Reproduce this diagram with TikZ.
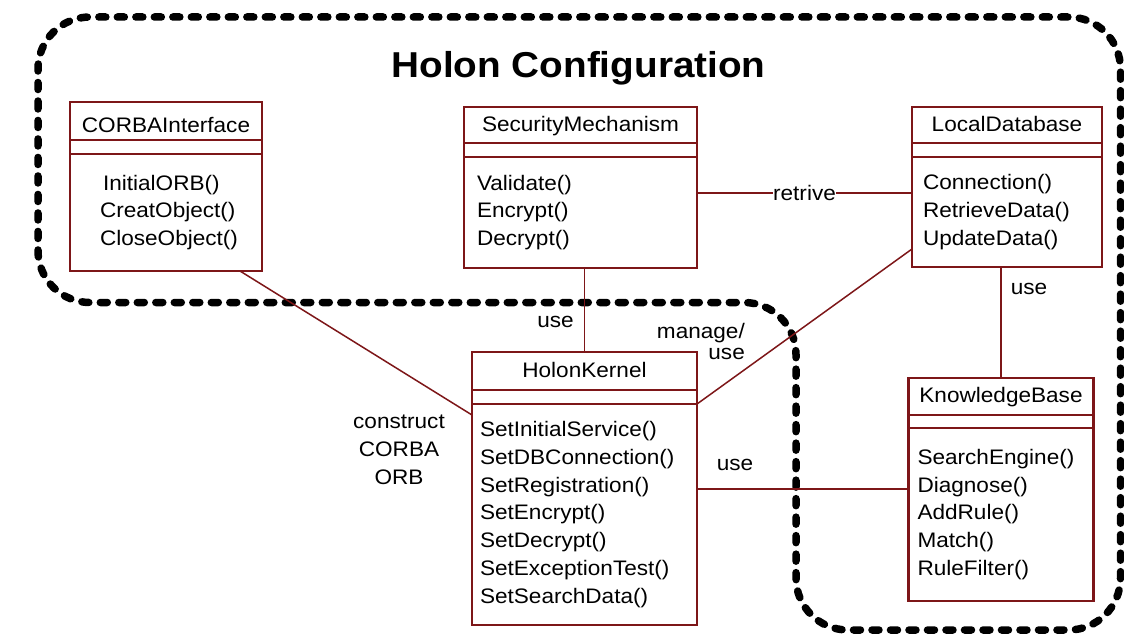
\documentclass[tikz,border=0pt]{standalone}
\usepackage{fontspec}
\setmainfont{Liberation Sans}[FakeStretch=1.075]
\usetikzlibrary{positioning,calc}
\definecolor{umlred}{RGB}{125,22,24}
\newcommand{\umlfont}{\fontsize{21}{27.8}\selectfont}

\begin{document}
\begin{tikzpicture}[x=1pt,y=-1pt,
    classname/.style={draw=umlred, line width=2.2pt, outer sep=0pt, inner sep=0pt,
        text height=16pt, text depth=4pt, font=\umlfont},
    attrbox/.style={draw=umlred, line width=2.2pt, outer sep=0pt, inner sep=0pt},
    opsbox/.style={draw=umlred, line width=2.2pt, outer sep=0pt, inner ysep=0pt,
        align=left, font=\umlfont},
    link/.style={draw=umlred, line width=1.5pt},
    linklabel/.style={font=\umlfont, inner sep=2pt},
    holonline/.style={black, line width=7.5pt, line cap=round, dash pattern=on 7pt off 11.5pt}]
    \useasboundingbox (0,0) rectangle (1124,634);

    % holon boundary
    \draw[holonline, rounded corners=52pt] (38,160) -- (38,17) -- (1120.5,17) -- (1120.5,630)
        -- (796,630) -- (796,302.5) -- (38,302.5) -- cycle;
    \node[font=\fontsize{36}{40}\selectfont\bfseries] (title) at (578.5,67.8) {Holon Configuration};

    % CORBAInterface
    \node[classname, minimum width=192pt, minimum height=38pt, text height=23pt, text depth=0pt] (corba) at (166,121) {CORBAInterface};
    \node[attrbox, minimum width=192pt, minimum height=14pt, below=0pt of corba] (corbaattr) {};
    \node[opsbox, minimum width=192pt, minimum height=117pt, inner xsep=30pt, text width=132pt,
        below=0pt of corbaattr] (corbaops) {\hspace*{3pt}InitialORB()\\CreatObject()\\CloseObject()};

    % SecurityMechanism
    \node[classname, minimum width=233pt, minimum height=36pt] (secmech) at (580.5,125) {SecurityMechanism};
    \node[attrbox, minimum width=233pt, minimum height=14pt, below=0pt of secmech] (secattr) {};
    \node[opsbox, minimum width=233pt, minimum height=111pt, inner xsep=13pt, text width=207pt,
        below=0pt of secattr] (secops) {Validate()\\Encrypt()\\Decrypt()};

    % LocalDatabase
    \node[classname, minimum width=190pt, minimum height=36pt] (ldb) at (1007,125) {LocalDatabase};
    \node[attrbox, minimum width=190pt, minimum height=14pt, below=0pt of ldb] (ldbattr) {};
    \node[opsbox, minimum width=190pt, minimum height=110pt, inner xsep=11pt, text width=168pt,
        below=0pt of ldbattr] (ldbops) {Connection()\\RetrieveData()\\UpdateData()};

    % HolonKernel
    \node[classname, minimum width=225pt, minimum height=38pt] (holon) at (584.5,371) {HolonKernel};
    \node[attrbox, minimum width=225pt, minimum height=14pt, below=0pt of holon] (holonattr) {};
    \node[opsbox, minimum width=225pt, minimum height=221pt, inner xsep=8pt, text width=209pt,
        below=0pt of holonattr] (holonops) {SetInitialService()\\SetDBConnection()\\SetRegistration()\\
        SetEncrypt()\\SetDecrypt()\\SetExceptionTest()\\SetSearchData()};

    % KnowledgeBase
    \node[classname, minimum width=185pt, minimum height=37pt] (kb) at (1001,396.5) {KnowledgeBase};
    \node[attrbox, minimum width=185pt, minimum height=13pt, below=0pt of kb] (kbattr) {};
    \node[opsbox, minimum width=185pt, minimum height=173pt, inner xsep=9pt, text width=167pt,
        below=0pt of kbattr] (kbops) {SearchEngine()\\Diagnose()\\AddRule()\\Match()\\RuleFilter()};

    % associations
    \draw[link] ($(secops.north east)+(0,36)$) coordinate (retr) -- (retr -| ldbops.west)
        node[midway, linklabel, fill=white, inner sep=0pt] (retrlabel) {retrive};
    \draw[link] (holon.north |- secops.south) -- (holon.north)
        node[pos=0.64, left=8pt, linklabel] (seclabel) {use};
    \draw[link] ($(corbaops.south)+(74,0)$) -- ($(holonops.north west)+(0,11)$);
    \node[linklabel, align=center] (corbalabel) at (399,450) {construct\\CORBA\\ORB};
    \draw[link] (holonops.north east) -- ($(ldbops.north west)+(0,92)$);
    \node[linklabel, align=right, anchor=east, font=\fontsize{21}{21}\selectfont] (ldblabel) at (747,341) {manage/\\use};
    \draw[link] (kb.north |- ldbops.south) -- (kb.north)
        node[pos=0.2, right=7pt, linklabel] (kblabel) {use};
    \draw[link] ($(holonops.north east)+(0,85)$) coordinate (hkkb) -- (hkkb -| kbops.west)
        node[pos=0.18, above=16pt, linklabel] (hklabel) {use};
\end{tikzpicture}
\end{document}
